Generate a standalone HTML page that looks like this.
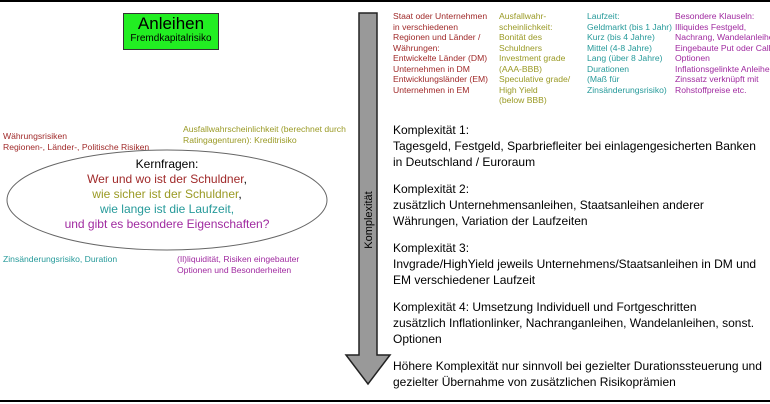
<!DOCTYPE html>
<html><head><meta charset="utf-8"><style>
body{margin:0;width:770px;height:404px;position:relative;background:#fff;font-family:"Liberation Sans",sans-serif;overflow:hidden}
.a{position:absolute;white-space:nowrap}
.s{font-size:8.6px;line-height:10.5px}
.r{color:#a02a2a}.o{color:#9a9a25}.t{color:#269a9a}.p{color:#a02aa0}
.m{font-size:12px;line-height:16px;color:#000}
</style></head><body>
<div class="a" style="left:0;top:0;width:770px;height:2px;background:#000"></div>
<div class="a" style="left:0;top:400px;width:770px;height:2px;background:#000"></div>
<div class="a" style="left:123px;top:13px;width:94px;height:35px;background:#22ee22;border:1px solid #333;text-align:center">
<div style="font-size:17px;line-height:19px">Anleihen</div><div style="font-size:10px;line-height:12px">Fremdkapitalrisiko</div></div>
<svg class="a" style="left:0;top:0" width="770" height="404">
<ellipse cx="167" cy="200" rx="160" ry="50" fill="#fff" stroke="#666" stroke-width="1"/>
<path d="M359 13 H377 V355 H390 L368 384 L346 355 H359 Z" fill="#999" stroke="#222" stroke-width="1.5"/>
<text x="372" y="220" transform="rotate(-90 372 220)" font-size="11" text-anchor="middle" font-family="Liberation Sans" fill="#000">Komplexität</text>
</svg>
<div class="a s r" style="left:3px;top:131px">Währungsrisiken<br>Regionen-, Länder-, Politische Risiken</div>
<div class="a s o" style="left:183px;top:124px">Ausfallwahrscheinlichkeit (berechnet durch<br>Ratingagenturen): Kreditrisiko</div>
<div class="a s t" style="left:3px;top:254px">Zinsänderungsrisiko, Duration</div>
<div class="a s p" style="left:177px;top:254px">(Il)liquidität, Risiken eingebauter<br>Optionen und Besonderheiten</div>
<div class="a" style="left:7px;top:157px;width:320px;text-align:center;font-size:12px;line-height:15px">
<div>Kernfragen:</div><div class="r">Wer und wo ist der Schuldner<span style="color:#000">,</span></div>
<div class="o">wie sicher ist der Schuldner<span style="color:#000">,</span></div>
<div class="t">wie lange ist die Laufzeit,</div><div class="p">und gibt es besondere Eigenschaften?</div></div>
<div class="a s r" style="left:393px;top:11px">Staat oder Unternehmen<br>in verschiedenen<br>Regionen und Länder /<br>Währungen:<br>Entwickelte Länder (DM)<br>Unternehmen in DM<br>Entwicklungsländer (EM)<br>Unternehmen in EM</div>
<div class="a s o" style="left:499px;top:11px">Ausfallwahr-<br>scheinlichkeit:<br>Bonität des<br>Schuldners<br>Investment grade<br>(AAA-BBB)<br>Speculative grade/<br>High Yield<br>(below BBB)</div>
<div class="a s t" style="left:587px;top:11px">Laufzeit:<br>Geldmarkt (bis 1 Jahr)<br>Kurz (bis 4 Jahre)<br>Mittel (4-8 Jahre)<br>Lang (über 8 Jahre)<br>Durationen<br>(Maß für<br>Zinsänderungsrisiko)</div>
<div class="a s p" style="left:675px;top:11px">Besondere Klauseln:<br>Illiquides Festgeld,<br>Nachrang, Wandelanleihe<br>Eingebaute Put oder Call<br>Optionen<br>Inflationsgelinkte Anleihen<br>Zinssatz verknüpft mit<br>Rohstoffpreise etc.</div>
<div class="a m" style="left:393px;top:122px">Komplexität 1:<br>Tagesgeld, Festgeld, Sparbriefleiter bei einlagengesicherten Banken<br>in Deutschland / Euroraum</div>
<div class="a m" style="left:393px;top:181px">Komplexität 2:<br>zusätzlich Unternehmensanleihen, Staatsanleihen anderer<br>Währungen, Variation der Laufzeiten</div>
<div class="a m" style="left:393px;top:240px">Komplexität 3:<br>Invgrade/HighYield jeweils Unternehmens/Staatsanleihen in DM und<br>EM verschiedener Laufzeit</div>
<div class="a m" style="left:393px;top:299px">Komplexität 4: Umsetzung Individuell und Fortgeschritten<br>zusätzlich Inflationlinker, Nachranganleihen, Wandelanleihen, sonst.<br>Optionen</div>
<div class="a m" style="left:393px;top:358px">Höhere Komplexität nur sinnvoll bei gezielter Durationssteuerung und<br>gezielter Übernahme von zusätzlichen Risikoprämien</div>
</body></html>
